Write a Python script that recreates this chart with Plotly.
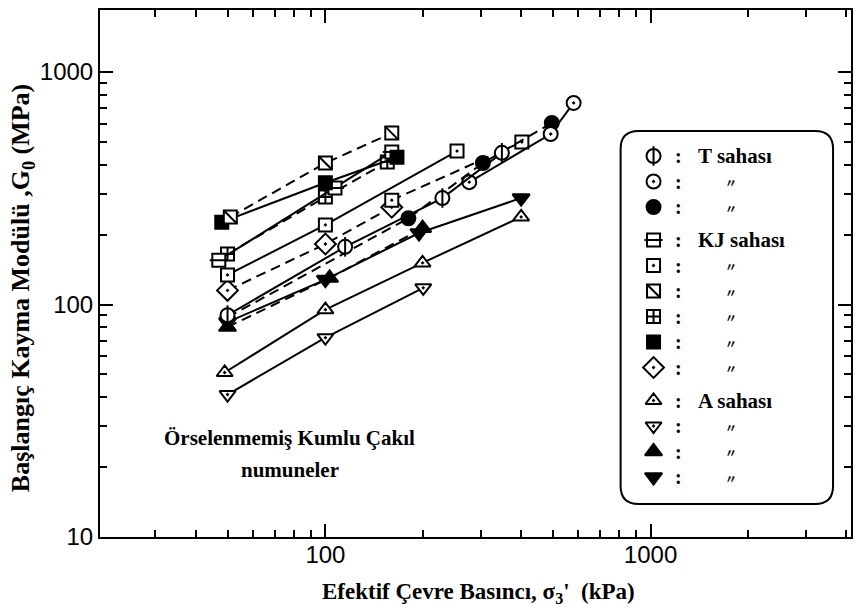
import math
import plotly.graph_objects as go

# Effective confining pressure (kPa) vs. initial shear modulus G0 (MPa)
# T site
t_bar_x = [50, 115, 229, 349]
t_bar_y = [90, 177, 287, 449]
t_dot_x = [277, 493, 580]
t_dot_y = [336, 541, 736]
t_fill_x = [50, 180, 305, 497]
t_fill_y = [88, 235, 406, 604]

# KJ site
kj_hbar_x = [47, 107, 160]
kj_hbar_y = [155, 317, 453]
kj_dot_x = [50, 100, 254]
kj_dot_y = [134, 220, 457]
kj_dot2_x = [160, 402]
kj_dot2_y = [281, 500]
kj_diag_x = [51, 100, 160]
kj_diag_y = [238, 406, 546]
kj_cross_x = [50, 100, 155]
kj_cross_y = [165, 290, 410]
kj_fill_x = [48, 100, 166]
kj_fill_y = [226, 334, 430]
kj_diam_x = [50, 100, 160]
kj_diam_y = [115, 182, 262]

# A site
a_up_x = [49, 100, 199, 400]
a_up_y = [51, 95, 151, 238]
a_down_x = [50, 100, 200]
a_down_y = [41, 72, 118]
a_upf_x = [50, 103, 199]
a_upf_y = [80, 130, 213]
a_downf_x = [50, 100, 194, 400]
a_downf_y = [84, 128, 203, 287]

# axis ticks
x_major = [100, 1000]
x_minor = [30, 40, 50, 60, 70, 80, 90, 200, 300, 400, 500, 600, 700, 800, 900, 2000, 3000, 4000]
y_major = [10, 100, 1000]
y_minor = [20, 30, 40, 50, 60, 70, 80, 90, 200, 300, 400, 500, 600, 700, 800, 900]

# legend rows
legend_styles = ["t_bar", "t_dot", "t_fill", "kj_hbar", "kj_dot", "kj_diag", "kj_cross",
                 "kj_fill", "kj_diam", "a_up", "a_down", "a_upf", "a_downf"]
legend_labels = ["T sahası", "〃", "〃", "KJ sahası", "〃", "〃", "〃", "〃", "〃",
                 "A sahası", "〃", "〃", "〃"]
legend_groups = [0, 0, 0, 1, 1, 1, 1, 1, 1, 2, 2, 2, 2]

W, H = 861, 608
L, R, T, B = 100, 8, 10, 71
SERIF = "Liberation Serif, Times New Roman, serif"
SANS = "Liberation Sans, Arial, sans-serif"
DASH = "10px,6px"

styles = {
    "t_bar":   dict(symbol="circle", overlay="line-ns", fill="white", size=14),
    "t_dot":   dict(symbol="circle-dot", overlay=None, fill="white", size=14),
    "t_fill":  dict(symbol="circle", overlay=None, fill="black", size=14),
    "kj_hbar": dict(symbol="square", overlay="line-ew", fill="white", size=13),
    "kj_dot":  dict(symbol="square-dot", overlay=None, fill="white", size=13),
    "kj_diag": dict(symbol="square", overlay="line-nw", fill="white", size=13),
    "kj_cross": dict(symbol="square-cross", overlay=None, fill="white", size=13),
    "kj_fill": dict(symbol="square", overlay=None, fill="black", size=13),
    "kj_diam": dict(symbol="diamond-dot", overlay=None, fill="white", size=16),
    "a_up":    dict(symbol="triangle-up-dot", overlay=None, fill="white", size=14),
    "a_down":  dict(symbol="triangle-down-dot", overlay=None, fill="white", size=14),
    "a_upf":   dict(symbol="triangle-up", overlay=None, fill="black", size=15),
    "a_downf": dict(symbol="triangle-down", overlay=None, fill="black", size=15),
}

series = [
    (a_down_x, a_down_y, "a_down", False),
    (a_up_x, a_up_y, "a_up", False),
    (a_downf_x, a_downf_y, "a_downf", False),
    (a_upf_x, a_upf_y, "a_upf", True),
    (kj_diam_x, kj_diam_y, "kj_diam", True),
    (kj_dot_x, kj_dot_y, "kj_dot", False),
    (kj_dot2_x, kj_dot2_y, "kj_dot", True),
    (kj_cross_x, kj_cross_y, "kj_cross", True),
    (kj_hbar_x, kj_hbar_y, "kj_hbar", False),
    (kj_fill_x, kj_fill_y, "kj_fill", False),
    (kj_diag_x, kj_diag_y, "kj_diag", True),
    (t_fill_x, t_fill_y, "t_fill", True),
    (t_dot_x, t_dot_y, "t_dot", False),
    (t_bar_x, t_bar_y, "t_bar", False),
]


def marker_traces(x, y, key, mode, line=None, xaxis="x", yaxis="y"):
    st = styles[key]
    out = [go.Scatter(
        x=x, y=y, mode=mode, xaxis=xaxis, yaxis=yaxis,
        line=line or dict(color="black", width=2),
        marker=dict(symbol=st["symbol"], size=st["size"], color=st["fill"],
                    line=dict(color="black", width=2)),
        showlegend=False, hoverinfo="skip")]
    if st["overlay"]:
        out.append(go.Scatter(
            x=x, y=y, mode="markers", xaxis=xaxis, yaxis=yaxis,
            marker=dict(symbol=st["overlay"], size=st["size"], color="black",
                        line=dict(color="black", width=2)),
            showlegend=False, hoverinfo="skip"))
    return out


fig = go.Figure()
for x, y, key, dashed in series:
    ln = dict(color="black", width=2, dash=DASH if dashed else "solid")
    for tr in marker_traces(x, y, key, "lines+markers", ln):
        fig.add_trace(tr)

# legend box drawn on a pixel-space overlay axis
box_l, box_r, box_t, box_b, rad = 622, 835, 131, 504, 18
sym_x, colon_x, text_x, ditto_x = 655, 680, 698, 733
row0, row_step, group_gap = 156, 25.5, 7.5
row_y = [row0 + i * row_step + g * group_gap for i, g in enumerate(legend_groups)]

for key, yy in zip(legend_styles, row_y):
    for tr in marker_traces([sym_x], [yy], key, "markers", xaxis="x2", yaxis="y2"):
        fig.add_trace(tr)

annotations = []
for lab, yy in zip(legend_labels, row_y):
    annotations.append(dict(x=colon_x, y=yy, xref="x2", yref="y2", text="<b>:</b>",
                            showarrow=False, font=dict(family=SERIF, size=20, color="black")))
    if lab == "〃":
        annotations.append(dict(x=ditto_x, y=yy + 1, xref="x2", yref="y2", text=f"<b>{lab}</b>",
                                showarrow=False,
                                font=dict(family="Noto Sans CJK JP", size=12, color="black")))
    else:
        annotations.append(dict(x=text_x, y=yy, xref="x2", yref="y2", text=f"<b>{lab}</b>",
                                xanchor="left", showarrow=False,
                                font=dict(family=SERIF, size=21, color="black")))

annotations.append(dict(x=290, y=438, xref="x2", yref="y2",
                        text="<b>Örselenmemiş Kumlu Çakıl</b>", showarrow=False,
                        font=dict(family=SERIF, size=21, color="black")))
annotations.append(dict(x=290, y=470, xref="x2", yref="y2",
                        text="<b>numuneler</b>", showarrow=False,
                        font=dict(family=SERIF, size=21, color="black")))


def paper_x(px):
    return (px - L) / (W - L - R)


def paper_y(py):
    return (H - B - py) / (H - T - B)


# axis titles, placed in paper space below / left of the plot area
annotations.append(dict(x=paper_x(480), y=paper_y(593), xref="paper", yref="paper",
                        xanchor="center", yanchor="middle",
                        text="<b>Efektif Çevre Basıncı, σ<sub>3</sub>'  (kPa)</b>",
                        showarrow=False, font=dict(family=SERIF, size=23, color="black")))
annotations.append(dict(x=paper_x(22), y=paper_y(288), xref="paper", yref="paper",
                        xanchor="center", yanchor="middle", textangle=-90,
                        text="<b>Başlangıç Kayma Modülü ,G<sub>0</sub> (MPa)</b>",
                        showarrow=False, font=dict(family=SERIF, size=26, color="black")))

box_path = (f"M{box_l + rad},{box_t} L{box_r - rad},{box_t} Q{box_r},{box_t} {box_r},{box_t + rad} "
            f"L{box_r},{box_b - rad} Q{box_r},{box_b} {box_r - rad},{box_b} "
            f"L{box_l + rad},{box_b} Q{box_l},{box_b} {box_l},{box_b - rad} "
            f"L{box_l},{box_t + rad} Q{box_l},{box_t} {box_l + rad},{box_t} Z")

axis_common = dict(showline=True, linecolor="black", linewidth=2, mirror="ticks",
                   ticks="inside", ticklen=13, tickwidth=1.5, tickcolor="black",
                   showgrid=False, zeroline=False,
                   tickfont=dict(family=SANS, size=24, color="black"))

px_per_dec_x = 326.0
x_lo = 2 - (326 - L) / px_per_dec_x
x_hi = x_lo + (W - L - R) / px_per_dec_x
px_per_dec_y = 232.5
y_lo = 1.0
y_hi = y_lo + (H - T - B) / px_per_dec_y

fig.update_layout(
    width=W, height=H,
    margin=dict(l=L, r=R, t=T, b=B),
    paper_bgcolor="white", plot_bgcolor="white",
    xaxis=dict(type="log", range=[x_lo, x_hi], tickvals=x_major,
               ticktext=[str(v) for v in x_major], ticklabelstandoff=-5,
               minor=dict(tickvals=x_minor, ticks="inside", ticklen=7, tickwidth=1.5,
                          tickcolor="black", showgrid=False),
               **axis_common),
    yaxis=dict(type="log", range=[y_lo, y_hi], tickvals=y_major,
               ticktext=[str(v) for v in y_major],
               minor=dict(tickvals=y_minor, ticks="inside", ticklen=7, tickwidth=1.5,
                          tickcolor="black", showgrid=False),
               **axis_common),
    xaxis2=dict(overlaying="x", anchor="y2", range=[L, W - R], visible=False),
    yaxis2=dict(overlaying="y", anchor="x2", range=[H - B, T], visible=False),
    shapes=[dict(type="path", path=box_path, xref="x2", yref="y2",
                 line=dict(color="black", width=2), fillcolor="rgba(0,0,0,0)")],
    annotations=annotations,
    showlegend=False,
)

fig.write_html("out.html")
